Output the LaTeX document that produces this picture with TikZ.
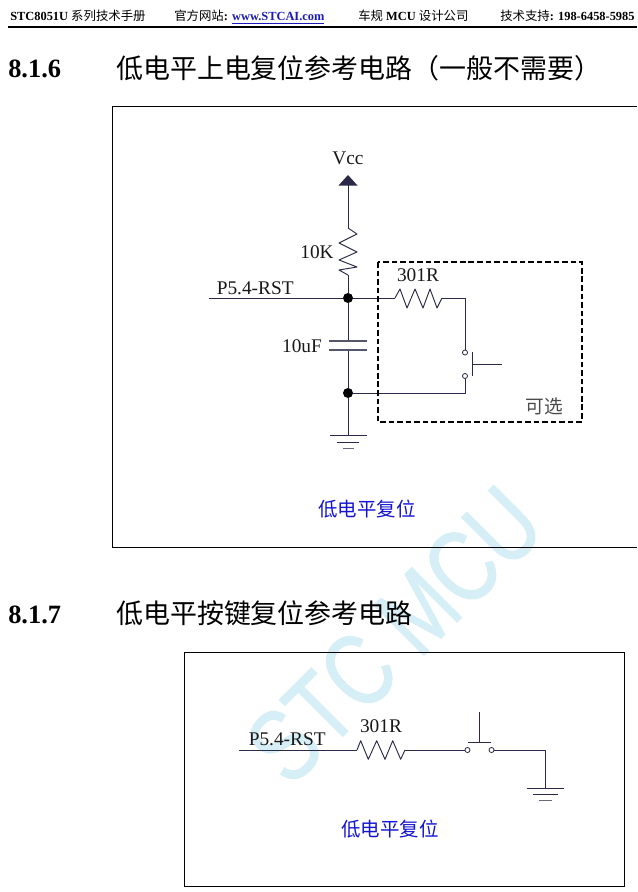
\documentclass[tikz,border=0pt]{standalone}
\usepackage{fontspec}
\setmainfont{Liberation Serif}
\setsansfont{Liberation Sans}
\newfontfamily\cjk{Noto Sans CJK SC}
\newfontfamily\wmfont[FakeBold=1.2]{Liberation Sans}
\definecolor{wire}{HTML}{2A2A48}
\definecolor{wmark}{HTML}{D6EEF5}
\definecolor{lblue}{HTML}{1414D2}
\definecolor{link}{HTML}{1A1AB8}
\newcommand{\pxfont}[1]{\fontsize{#1}{#1}\selectfont}
\tikzset{
  x=0.75pt,y=-0.75pt,
  wireline/.style={draw=wire,line width=0.7pt},
  framebox/.style={draw=black,line width=0.75pt},
  dashbox/.style={draw=black,line width=1.5pt,dash pattern=on 4.2pt off 2.2pt},
  junction/.style={circle,fill=black,draw=none,inner sep=0pt,minimum size=7.5pt},
  terminal/.style={circle,draw=wire,fill=white,line width=0.6pt,inner sep=0pt,minimum size=3.8pt},
  label/.style={inner sep=0pt,font=\pxfont{14.5},text=black!90},
  head/.style={inner sep=0pt,anchor=base west,font=\pxfont{9.3}\bfseries},
  secnum/.style={inner sep=0pt,anchor=base west,font=\pxfont{19.8}\bfseries},
  sectitle/.style={inner sep=0pt,anchor=base west,font=\pxfont{20.2}\cjk},
  caption/.style={inner sep=0pt,font=\pxfont{14.6}\cjk,text=lblue},
}
\begin{document}
\begin{tikzpicture}
\useasboundingbox (0,0) rectangle (637,892);
\fill[white] (0,0) rectangle (637,892);
% watermark
\node (wm) [inner sep=0pt,anchor=base west,rotate=45,text=wmark,font=\pxfont{77}\wmfont] at (290,789) {\scalebox{.78}[1]{STC MCU}};
% header
\node (h1) [head] at (10,21) {STC8051U {\cjk\mdseries 系列技术手册}};
\node (h2) [head] at (174,21) {{\cjk\mdseries 官方网站}: \textcolor{link}{\underline{www.STCAI.com}}};
\node (h3) [head] at (358,21) {{\cjk\mdseries 车规} MCU {\cjk\mdseries 设计公司}};
\node (h4) [head] at (500,21) {{\cjk\mdseries 技术支持}: 198-6458-5985};
\coordinate (rl) at (8,27); \coordinate (rr) at (637,27);
\draw[line width=1.5pt] (rl) -- (rr);
% headings
\node (n1) [secnum] at (8,78) {8.1.6};
\node (t1) [sectitle] at (116,78.5) {低电平上电复位参考电路（一般不需要）};
\node (n2) [secnum] at (8,623) {8.1.7};
\node (t2) [sectitle] at (116,623.5) {低电平按键复位参考电路};
% frames
\coordinate (f1a) at (637,106); \coordinate (f1b) at (112,106);
\coordinate (f1c) at (112,547); \coordinate (f1d) at (637,547);
\draw[framebox] (f1a) -- (f1b) -- (f1c) -- (f1d);
\coordinate (f2a) at (184,652); \coordinate (f2b) at (624,886);
\draw[framebox] (f2a) rectangle (f2b);
% first circuit
\node (vcc) [label] at (348,158) {Vcc};
\coordinate (vt) at (348,175);
\coordinate (vb) at (348,185);
\fill[wire] (vt) -- (357.5,185.5) -- (338.5,185.5) -- cycle;
\coordinate (r1t) at (348,228);
\coordinate (r1b) at (348,275);
\node (j1) [junction] at (348,298) {};
\node (j2) [junction] at (348,393) {};
\coordinate (c1t) at (348,341);
\coordinate (c1b) at (348,350);
\coordinate (g1) at (348,435);
\coordinate (rst1) at (209,298);
\coordinate (r2l) at (395,298);
\coordinate (r2r) at (442,298);
\coordinate (cor1) at (465,298);
\coordinate (cor2) at (465,393);
\node (s1) [terminal] at (465,352.5) {};
\node (s2) [terminal] at (465,376) {};
\draw[wireline] (vb) -- (r1t);
\draw[wireline,line join=round] (r1t) -- (357,234) -- (339,243) -- (357,252) -- (339,260) -- (357,267) -- (339,270) -- (r1b);
\draw[wireline] (r1b) -- (j1);
\draw[wireline] (j1) -- (c1t);
\draw[wireline] (c1b) -- (j2);
\draw[wireline] (j2) -- (g1);
\draw[wireline] (rst1) -- (j1);
\draw[wireline] (j1) -- (r2l);
\draw[wireline,line join=round] (r2l) -- (400,289) -- (407,308) -- (415,289) -- (423,308) -- (430,289) -- (437,308) -- (r2r);
\draw[wireline] (r2r) -- (cor1) -- (s1);
\draw[wireline] (s2) -- (cor2) -- (j2);
\draw[wireline,line width=1pt,draw=wire!80] (329,341) -- (367,341);
\draw[wireline,line width=1pt,draw=wire!80] (329,350) -- (367,350);
\coordinate (bar1) at (472,352); \coordinate (bar2) at (472,376);
\coordinate (barm) at (472,364); \coordinate (hand) at (502,364);
\draw[wireline] (bar1) -- (bar2);
\draw[wireline] (barm) -- (hand);
\draw[wireline] (330,435) -- (367,435);
\draw[wireline] (337,442.5) -- (359,442.5);
\draw[wireline,draw=wire!70] (343,448.5) -- (354,448.5);
\coordinate (dba) at (377.5,262); \coordinate (dbb) at (582,421.5);
\draw[dashbox] (dba) rectangle (dbb);
\node (l10k) [label] at (317,252) {10K};
\node (l301a) [label] at (418,275) {301R};
\node (lrst1) [label,anchor=base west] at (216.5,294.5) {P5.4-RST};
\node (l10u) [label] at (302,346) {10uF};
\node (lopt) [label,font=\pxfont{14}\cjk,text=black!70] at (544,406) {可选};
\node (cap1) [caption] at (367,509) {低电平复位};
% second circuit
\coordinate (rst2) at (239,750);
\coordinate (r3l) at (357,750);
\coordinate (r3r) at (405,750);
\node (s3) [terminal] at (467.5,750) {};
\node (s4) [terminal] at (491.5,750) {};
\coordinate (cor3) at (545,750);
\coordinate (g2) at (545,788);
\draw[wireline] (rst2) -- (r3l);
\draw[wireline,line join=round] (r3l) -- (360.7,740.7) -- (368.3,759.3) -- (376.7,740.7) -- (385,759.3) -- (392.7,740.7) -- (400.7,759.3) -- (r3r);
\draw[wireline] (r3r) -- (s3);
\draw[wireline] (s4) -- (cor3) -- (g2);
\coordinate (bar3) at (468,742.5); \coordinate (bar4) at (491,742.5);
\coordinate (barm2) at (479.5,742.5); \coordinate (hand2) at (479.5,712);
\draw[wireline] (bar3) -- (bar4);
\draw[wireline] (barm2) -- (hand2);
\draw[wireline] (526.5,788) -- (563.5,788);
\draw[wireline] (533,794.5) -- (558,794.5);
\draw[wireline,draw=wire!70] (539,800.5) -- (552,800.5);
\node (l301b) [label] at (381,726) {301R};
\node (lrst2) [label,anchor=base west] at (248.5,745) {P5.4-RST};
\node (cap2) [caption] at (390,829) {低电平复位};
\end{tikzpicture}
\end{document}
